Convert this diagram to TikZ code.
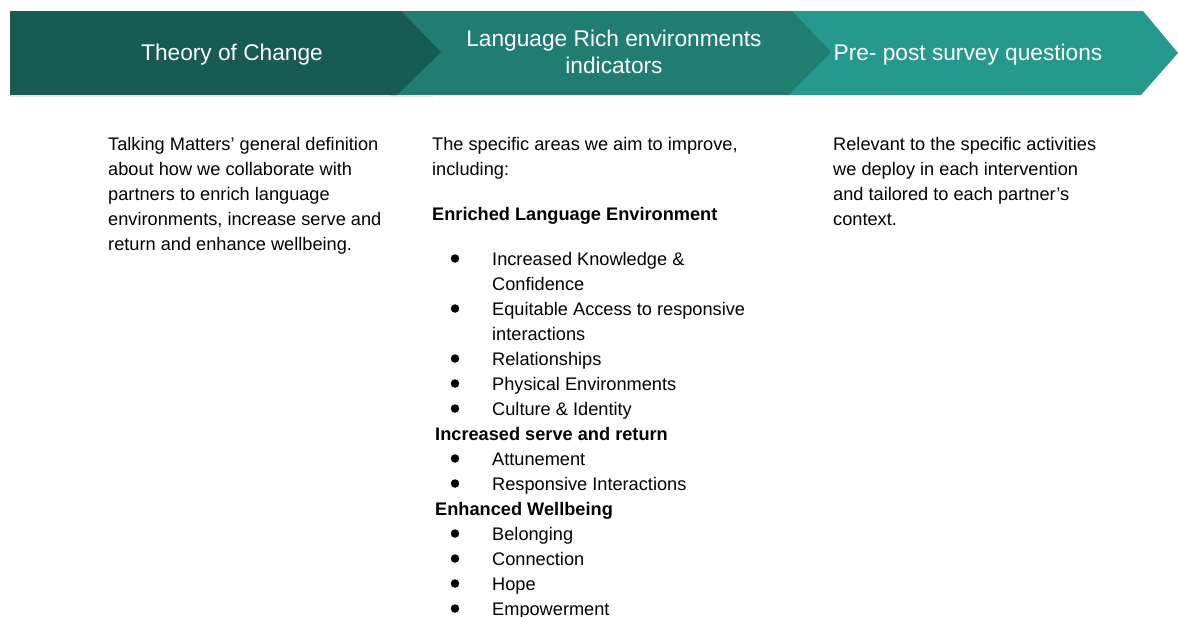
\documentclass[tikz,border=0pt]{standalone}
\usepackage{fontspec}
\setmainfont{Liberation Sans}
\definecolor{col1}{HTML}{185B53}
\definecolor{col2}{HTML}{1F7D72}
\definecolor{col3}{HTML}{26998F}

\begin{document}
\begin{tikzpicture}[x=1pt, y=-1pt,
    head/.style={text=white, anchor=base, inner sep=0pt, font=\fontsize{22.7}{27}\selectfont},
    body/.style={anchor=base west, inner sep=0pt, font=\fontsize{18.2}{25}\selectfont},
    lead/.style={body, font=\fontsize{18.2}{25}\selectfont\bfseries},
    dot/.style={circle, fill=black, inner sep=0pt, minimum size=8.5pt}]
    \useasboundingbox (0,0) rectangle (1178,616);

    % chevrons, back to front
    \fill[col3] (788,11) -- (1143,11) -- (1178,53) -- (1141,95) -- (788,95) -- cycle;
    \fill[col2] (390,11) -- (792,11) -- (831,52) -- (788,95) -- (390,95) -- cycle;
    \draw[black!10, line width=1.5pt] (10,96.5) -- (433,96.5);
    \fill[col1] (10,11) -- (401,11) -- (441,52) -- (397,95) -- (10,95) -- cycle;

    \node[head] (toc) at (232,60) {Theory of Change};
    \node[head] (lri) at (614,46.5) {Language Rich environments};
    \node[head] (lriB) at (614,73.5) {indicators};
    \node[head] (pps) at (968,60) {Pre- post survey questions};

    % column texts
    \foreach \t [count=\i] in {Talking Matters’ general definition, about how we collaborate with,
        partners to enrich language, {environments, increase serve and}, return and enhance wellbeing.}
      \node[body] (toc\i) at (108,{150.5+25*(\i-1)}) {\t};
    \foreach \t [count=\i] in {Relevant to the specific activities, we deploy in each intervention,
        and tailored to each partner’s, context.}
      \node[body] (pps\i) at (833,{150.5+25*(\i-1)}) {\t};

    \node[body] (lri1) at (432,150.5) {The specific areas we aim to improve,};
    \node[body] (lri2) at (432,175.5) {including:};
    \node[lead] (enriched) at (432,220) {Enriched Language Environment};
    \node[lead] (serve) at (435,440) {Increased serve and return};
    \node[lead] (wellbeing) at (435,515) {Enhanced Wellbeing};

    % bullet items
    \foreach \y/\t in {265/Increased Knowledge \&, 290/Confidence, 315/Equitable Access to responsive,
        340/interactions, 365/Relationships, 390/Physical Environments, 415/Culture \& Identity,
        465/Attunement, 490/Responsive Interactions, 540/Belonging, 565/Connection, 590/Hope,
        615/Empowerment}
      \node[body] (item\y) at (492,\y) {\t};
    \foreach \y in {265,315,365,390,415,465,490,540,565,590,615}
      \node[dot] (dot\y) at (455,\y-6.5) {};
\end{tikzpicture}
\end{document}
